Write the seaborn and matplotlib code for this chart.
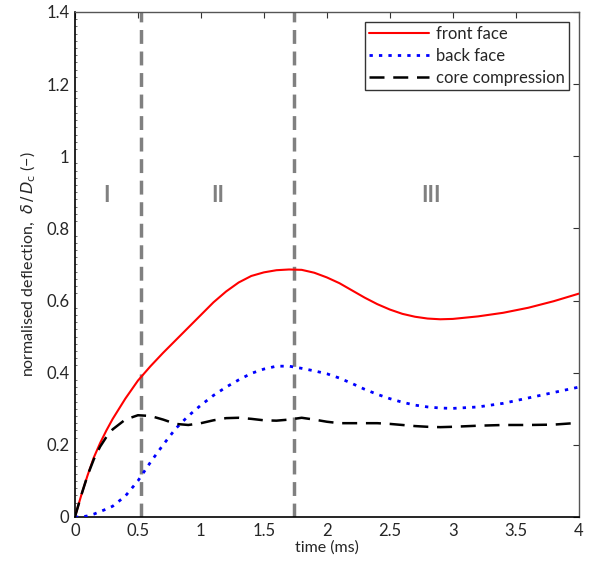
import numpy as np
import pandas as pd
import matplotlib
matplotlib.use("Agg")
import matplotlib.pyplot as plt
import seaborn as sns
from matplotlib.ticker import MultipleLocator

time_ms = [0, 0.05, 0.1, 0.15, 0.2, 0.25, 0.3, 0.4, 0.5, 0.6, 0.7, 0.8, 0.9, 1.0,
           1.1, 1.2, 1.3, 1.4, 1.5, 1.6, 1.7, 1.8, 1.9, 2.0, 2.1, 2.2, 2.3, 2.4,
           2.5, 2.6, 2.7, 2.8, 2.9, 3.0, 3.2, 3.4, 3.6, 3.8, 4.0]
front_face = [0, 0.06, 0.115, 0.165, 0.205, 0.24, 0.272, 0.328, 0.378, 0.418, 0.455,
              0.49, 0.525, 0.56, 0.595, 0.625, 0.65, 0.668, 0.678, 0.684, 0.686,
              0.685, 0.677, 0.664, 0.648, 0.628, 0.608, 0.59, 0.575, 0.563, 0.555,
              0.55, 0.548, 0.549, 0.556, 0.566, 0.58, 0.598, 0.619]
back_face = [0, 0.0, 0.003, 0.008, 0.015, 0.022, 0.03, 0.058, 0.10, 0.152, 0.2,
             0.245, 0.28, 0.31, 0.337, 0.36, 0.38, 0.398, 0.41, 0.418, 0.418,
             0.412, 0.405, 0.397, 0.385, 0.37, 0.354, 0.34, 0.328, 0.318, 0.31,
             0.305, 0.302, 0.301, 0.305, 0.315, 0.33, 0.345, 0.36]
core_compression = [0, 0.06, 0.115, 0.16, 0.195, 0.222, 0.243, 0.27, 0.282, 0.28,
                    0.27, 0.258, 0.255, 0.26, 0.268, 0.274, 0.275, 0.272, 0.268,
                    0.267, 0.27, 0.275, 0.27, 0.264, 0.26, 0.26, 0.26, 0.26, 0.258,
                    0.255, 0.252, 0.25, 0.249, 0.25, 0.253, 0.255, 0.255, 0.256, 0.261]
series_names = ["front face", "back face", "core compression"]
phase_bounds = [0.525, 1.74]
phase_labels = ["I", "II", "III"]
phase_label_x = [0.254, 1.135, 2.83]
phase_label_y = 0.89

sns.set_style("white")
plt.rcParams["font.family"] = ["Lato", "DejaVu Sans"]

df = pd.DataFrame({
    "time": time_ms * 3,
    "value": front_face + back_face + core_compression,
    "series": sum([[n] * len(time_ms) for n in series_names], []),
})

fig = plt.figure(figsize=(5.9, 5.68), dpi=100)
ax = fig.add_axes([0.127, 0.0898, 0.854, 0.8893])

for xb in phase_bounds:
    ax.axvline(xb, color="#808080", lw=2.5, ls=(0, (4, 2.2)), zorder=1)

styles = {
    "front face": dict(color="#ff0000", ls="-", lw=1.5),
    "back face": dict(color="#0000ff", ls=(0, (1.2, 2.2)), lw=2.0),
    "core compression": dict(color="black", ls=(0, (6, 3.5)), lw=1.8),
}
for name in series_names:
    sub = df[df["series"] == name]
    sns.lineplot(data=sub, x="time", y="value", ax=ax, label=name,
                 estimator=None, sort=False, zorder=3, **styles[name])

for lab, lx in zip(phase_labels, phase_label_x):
    ax.text(lx, phase_label_y, lab, color="#808080", fontsize=16,
            fontweight="bold", ha="center", va="center")

ax.set_xlim(0, 4)
ax.set_ylim(0, 1.4)
ax.xaxis.set_major_locator(MultipleLocator(0.5))
ax.yaxis.set_major_locator(MultipleLocator(0.2))
ax.yaxis.set_minor_locator(MultipleLocator(0.02))
ax.set_xticklabels([("%g" % v) for v in ax.get_xticks()])
ax.set_yticklabels([("%g" % v) for v in ax.get_yticks()])
ax.tick_params(which="major", direction="in", length=4, width=0.8,
               top=True, right=True, labelsize=12, color="#333333", pad=4)
ax.tick_params(which="minor", direction="in", length=1.5, width=0.6,
               left=True, right=False, top=False, bottom=False, color="#555555")
ax.set_xlabel("time (ms)", fontsize=11.5, labelpad=1)
ax.set_ylabel(r"normalised deflection,  $\delta\,/\,D_\mathrm{c}$ (−)", fontsize=11.5, labelpad=6)

for side in ["left", "bottom"]:
    ax.spines[side].set_color("black")
    ax.spines[side].set_linewidth(1.2)
for side in ["top", "right"]:
    ax.spines[side].set_color("#555555")
    ax.spines[side].set_linewidth(1.0)

leg = ax.legend(loc="upper right", fontsize=12, frameon=True, fancybox=False,
                edgecolor="black", borderpad=0.25, labelspacing=0.35,
                handlelength=3.6, handletextpad=0.4, borderaxespad=0.6)
leg.get_frame().set_linewidth(1.0)

fig.savefig("out.png", dpi=100)
